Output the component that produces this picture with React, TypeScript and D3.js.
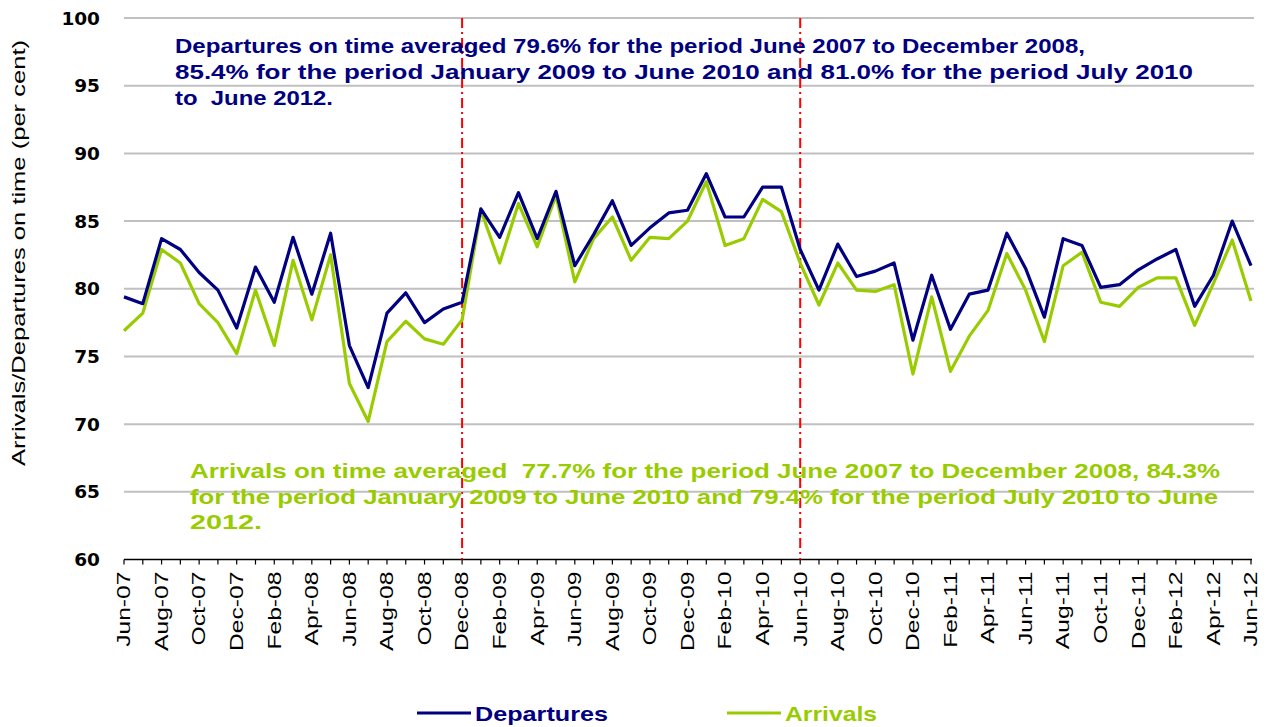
import React from 'react';
import * as d3 from 'd3';

const months = [
  'Jun-07', 'Jul-07', 'Aug-07', 'Sep-07', 'Oct-07', 'Nov-07', 'Dec-07',
  'Jan-08', 'Feb-08', 'Mar-08', 'Apr-08', 'May-08', 'Jun-08', 'Jul-08', 'Aug-08', 'Sep-08', 'Oct-08', 'Nov-08', 'Dec-08',
  'Jan-09', 'Feb-09', 'Mar-09', 'Apr-09', 'May-09', 'Jun-09', 'Jul-09', 'Aug-09', 'Sep-09', 'Oct-09', 'Nov-09', 'Dec-09',
  'Jan-10', 'Feb-10', 'Mar-10', 'Apr-10', 'May-10', 'Jun-10', 'Jul-10', 'Aug-10', 'Sep-10', 'Oct-10', 'Nov-10', 'Dec-10',
  'Jan-11', 'Feb-11', 'Mar-11', 'Apr-11', 'May-11', 'Jun-11', 'Jul-11', 'Aug-11', 'Sep-11', 'Oct-11', 'Nov-11', 'Dec-11',
  'Jan-12', 'Feb-12', 'Mar-12', 'Apr-12', 'May-12', 'Jun-12',
];

const departures = [
  79.4, 78.9, 83.7, 82.9, 81.2, 79.9, 77.1,
  81.6, 79.0, 83.8, 79.6, 84.1, 75.8, 72.7, 78.2, 79.7, 77.5, 78.5, 79.0,
  85.9, 83.8, 87.1, 83.7, 87.2, 81.7, 84.0, 86.5, 83.2, 84.5, 85.6, 85.8,
  88.5, 85.3, 85.3, 87.5, 87.5, 82.9, 79.9, 83.3, 80.9, 81.3, 81.9, 76.2,
  81.0, 77.0, 79.6, 79.9, 84.1, 81.5, 77.9, 83.7, 83.2, 80.1, 80.3, 81.4,
  82.2, 82.9, 78.7, 81.0, 85.0, 81.7,
];

const arrivals = [
  76.9, 78.2, 82.9, 81.9, 78.9, 77.5, 75.2,
  79.9, 75.8, 82.1, 77.7, 82.5, 73.0, 70.2, 76.1, 77.6, 76.3, 75.9, 77.7,
  85.8, 81.9, 86.3, 83.1, 86.9, 80.5, 83.7, 85.3, 82.1, 83.8, 83.7, 85.0,
  87.9, 83.2, 83.7, 86.6, 85.7, 81.9, 78.8, 81.9, 79.9, 79.8, 80.3, 73.7,
  79.4, 73.9, 76.5, 78.4, 82.6, 79.9, 76.1, 81.7, 82.7, 79.0, 78.7, 80.1,
  80.8, 80.8, 77.3, 80.4, 83.6, 79.1,
];

const yTicks = [60, 65, 70, 75, 80, 85, 90, 95, 100];
const breakMonths = ['Dec-08', 'Jun-10'];

const depNote = [
  { text: 'Departures on time averaged 79.6% for the period June 2007 to December 2008,', w: 910 },
  { text: '85.4% for the period January 2009 to June 2010 and 81.0% for the period July 2010', w: 1018 },
  { text: 'to  June 2012.', w: 158 },
];
const arrNote = [
  { text: 'Arrivals on time averaged  77.7% for the period June 2007 to December 2008, 84.3%', w: 1030 },
  { text: 'for the period January 2009 to June 2010 and 79.4% for the period July 2010 to June', w: 1028 },
  { text: '2012.', w: 72 },
];

const NAVY = '#000080';
const GREEN = '#99cc00';

export default function App() {
  const width = 1272;
  const height = 727;
  const x = d3.scaleLinear().domain([0, months.length - 1]).range([124, 1251]);
  const y = d3.scaleLinear().domain([60, 100]).range([559.5, 18]);
  const line = d3.line<number>().x((_, i) => x(i)).y(d => y(d));
  const font = '"Liberation Sans", Arial, sans-serif';

  return (
    <svg width={width} height={height} style={{ position: 'absolute', left: 0, top: 0, background: '#fff' }}>
      {/* grid */}
      {yTicks.filter(t => t > 60).map(t => (
        <line key={t} x1={124} x2={1254} y1={y(t)} y2={y(t)} stroke="#c0c0c0" strokeWidth={2} />
      ))}
      {yTicks.map(t => (
        <text key={'l' + t} x={100} y={y(t)} dy="0.36em" textAnchor="end"
          fontFamily='"DejaVu Sans", Verdana, sans-serif' fontWeight="bold" fontSize={18.5} fill="#000">{t}</text>
      ))}
      <text transform="translate(25,253) rotate(-90)" textAnchor="middle"
        fontFamily={font} fontSize={19} fill="#000" textLength={426} lengthAdjust="spacingAndGlyphs">
        Arrivals/Departures on time (per cent)</text>

      {/* x axis */}
      <line x1={124} x2={1252} y1={y(60)} y2={y(60)} stroke="#000" strokeWidth={1.5} />
      {months.map((m, i) => (
        <line key={'t' + m} x1={x(i)} x2={x(i)} y1={y(60)} y2={y(60) + 5} stroke="#000" strokeWidth={1.2} />
      ))}
      {months.map((m, i) => i % 2 === 0 ? (
        <text key={'m' + m} transform={`translate(${x(i)},${y(60) + 12}) rotate(-90) scale(1.37,1)`} dy="0.35em"
          textAnchor="end" fontFamily={font} fontSize={18} fill="#000">{m}</text>
      ) : null)}

      {/* period breaks */}
      {breakMonths.map(m => {
        const i = months.indexOf(m);
        return (
          <line key={'b' + m} x1={x(i)} x2={x(i)} y1={y(100)} y2={y(60)} stroke="#ff0000" strokeWidth={2}
            strokeDasharray="10,4,2,4" />
        );
      })}

      {/* series */}
      <path d={line(arrivals) || ''} fill="none" stroke={GREEN} strokeWidth={3.2} strokeLinejoin="round" />
      <path d={line(departures) || ''} fill="none" stroke={NAVY} strokeWidth={3.2} strokeLinejoin="round" />

      {/* notes */}
      {depNote.map((l, i) => (
        <text key={'d' + i} x={175} y={53 + i * 26} fontFamily={font} fontWeight="bold" fontSize={20.5}
          fill={NAVY} textLength={l.w} lengthAdjust="spacingAndGlyphs" style={{ whiteSpace: 'pre' }}>{l.text}</text>
      ))}
      {arrNote.map((l, i) => (
        <text key={'a' + i} x={190} y={478 + i * 25.5} fontFamily={font} fontWeight="bold" fontSize={20.5}
          fill={GREEN} textLength={l.w} lengthAdjust="spacingAndGlyphs" style={{ whiteSpace: 'pre' }}>{l.text}</text>
      ))}

      {/* legend */}
      <line x1={417} x2={471} y1={713} y2={713} stroke={NAVY} strokeWidth={3.2} />
      <text x={475} y={721} fontFamily={font} fontWeight="bold" fontSize={21} fill={NAVY}
        textLength={133} lengthAdjust="spacingAndGlyphs">Departures</text>
      <line x1={727} x2={781} y1={713} y2={713} stroke={GREEN} strokeWidth={3.2} />
      <text x={785} y={721} fontFamily={font} fontWeight="bold" fontSize={21} fill={GREEN}
        textLength={92} lengthAdjust="spacingAndGlyphs">Arrivals</text>
    </svg>
  );
}
